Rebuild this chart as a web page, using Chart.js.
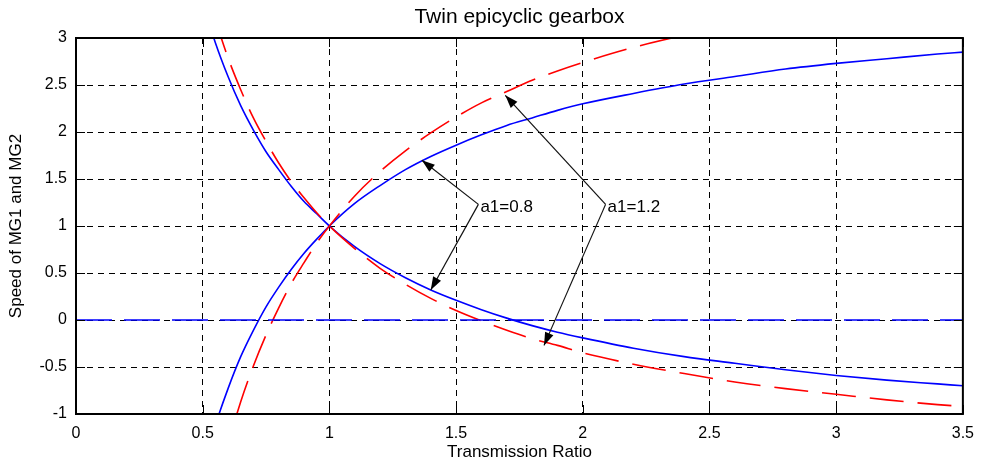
<!DOCTYPE html>
<html>
<head>
<meta charset="utf-8">
<script src="https://cdn.jsdelivr.net/npm/chart.js@4"></script>
<style>
  body { margin: 0; background: #fff; }
  canvas { display: block; }
</style>
</head>
<body>
<canvas id="gearChart" width="984" height="466"></canvas>
<script>
// transmission ratio samples
var ratios = [0.5, 0.55, 0.6, 0.65, 0.7, 0.75, 0.8, 0.85, 0.9, 0.95, 1.0, 1.1, 1.2, 1.3, 1.4, 1.5, 1.6, 1.7, 1.8, 1.9, 2.0, 2.2, 2.4, 2.6, 2.8, 3.0, 3.2, 3.4, 3.5];

// a1 = 0.8 (blue, solid)
var blueRise = [-1.59, -1.12, -0.73, -0.39, -0.11, 0.14, 0.35, 0.54, 0.71, 0.86, 1.00, 1.24, 1.43, 1.60, 1.74, 1.86, 1.97, 2.07, 2.15, 2.23, 2.30, 2.41, 2.51, 2.59, 2.67, 2.73, 2.78, 2.83, 2.85];
var blueFall = [3.38, 2.95, 2.59, 2.28, 2.02, 1.79, 1.60, 1.42, 1.26, 1.13, 1.00, 0.78, 0.60, 0.45, 0.32, 0.21, 0.11, 0.02, -0.06, -0.13, -0.19, -0.30, -0.39, -0.46, -0.53, -0.59, -0.64, -0.68, -0.70];

// a1 = 1.2 (red, dashed)
var redRise = [-2.48, -1.85, -1.32, -0.87, -0.49, -0.16, 0.13, 0.39, 0.61, 0.82, 1.00, 1.32, 1.58, 1.80, 1.99, 2.16, 2.31, 2.43, 2.55, 2.65, 2.74, 2.90, 3.03, 3.14, 3.24, 3.32, 3.39, 3.46, 3.49];
var redFall = [3.69, 3.20, 2.79, 2.45, 2.15, 1.90, 1.67, 1.47, 1.30, 1.14, 1.00, 0.76, 0.55, 0.38, 0.23, 0.10, -0.01, -0.11, -0.20, -0.27, -0.35, -0.47, -0.57, -0.66, -0.73, -0.79, -0.85, -0.90, -0.92];

// zero speed line
var zeroX = [0, 3.5];
var zeroY = [0, 0];

// annotation labels, anchored in data units
var noteLabels = ['a1=0.8', 'a1=1.2'];
var notePos = [[1.596, 1.20], [2.098, 1.20]];
var noteFrom = [[1.588, 1.23], [2.09, 1.23]];
var noteTips = [
    [[1.365, 1.70], [1.40, 0.32]],
    [[1.694, 2.39], [1.847, -0.27]]
];

var chartTitle = 'Twin epicyclic gearbox';

var FONT = 'Liberation Sans, Arial, Helvetica, sans-serif';

function pts(xs, ys) {
    return xs.map(function(x, i) { return {x: x, y: ys[i]}; });
}

function curve(xs, ys, color, dash) {
    return {
        data: pts(xs, ys),
        borderColor: color,
        borderWidth: 1.6,
        borderDash: dash || [],
        pointRadius: 0,
        fill: false,
        cubicInterpolationMode: 'monotone',
        clip: 0
    };
}

var frame = {
    id: 'frame',
    beforeDraw: function(chart) {
        var c = chart.ctx;
        c.save();
        c.fillStyle = '#fff';
        c.fillRect(0, 0, chart.width, chart.height);
        c.restore();
    },
    afterDraw: function(chart) {
        var c = chart.ctx, a = chart.chartArea;
        var xs = chart.scales.x, ys = chart.scales.y;
        c.save();
        c.strokeStyle = '#000';
        c.lineWidth = 1;
        c.setLineDash([]);
        c.beginPath();
        xs.ticks.forEach(function(t) {
            var px = Math.round(xs.getPixelForValue(t.value)) + 0.5;
            c.moveTo(px, a.bottom); c.lineTo(px, a.bottom - 9);
            c.moveTo(px, a.top); c.lineTo(px, a.top + 9);
        });
        ys.ticks.forEach(function(t) {
            var py = Math.round(ys.getPixelForValue(t.value)) + 0.5;
            c.moveTo(a.left, py); c.lineTo(a.left + 9, py);
            c.moveTo(a.right, py); c.lineTo(a.right - 9, py);
        });
        c.stroke();
        c.lineWidth = 2;
        c.strokeRect(a.left, a.top, a.right - a.left, a.bottom - a.top);

        // title centred over the plot box
        c.fillStyle = '#000';
        c.font = '21px ' + FONT;
        c.textAlign = 'center';
        c.textBaseline = 'middle';
        c.fillText(chartTitle, (a.left + a.right) / 2, 17);

        // arrows + labels
        c.lineWidth = 1.2;
        c.strokeStyle = '#111';
        for (var i = 0; i < noteLabels.length; i++) {
            var fx = xs.getPixelForValue(noteFrom[i][0]);
            var fy = ys.getPixelForValue(noteFrom[i][1]);
            noteTips[i].forEach(function(tp) {
                var tx = xs.getPixelForValue(tp[0]);
                var ty = ys.getPixelForValue(tp[1]);
                var ang = Math.atan2(ty - fy, tx - fx);
                c.beginPath();
                c.moveTo(fx, fy);
                c.lineTo(tx, ty);
                c.stroke();
                c.beginPath();
                c.moveTo(tx, ty);
                c.lineTo(tx - 13 * Math.cos(ang) + 4.5 * Math.sin(ang), ty - 13 * Math.sin(ang) - 4.5 * Math.cos(ang));
                c.lineTo(tx - 13 * Math.cos(ang) - 4.5 * Math.sin(ang), ty - 13 * Math.sin(ang) + 4.5 * Math.cos(ang));
                c.closePath();
                c.fill();
            });
            c.font = '17px ' + FONT;
            c.textAlign = 'left';
            c.textBaseline = 'middle';
            c.fillText(noteLabels[i], xs.getPixelForValue(notePos[i][0]), ys.getPixelForValue(notePos[i][1]));
        }
        c.restore();
    }
};

var ctx = document.getElementById('gearChart').getContext('2d');
var gearChart = new Chart(ctx, {
    type: 'line',
    data: {
        datasets: [
            curve(zeroX, zeroY, '#0000ff', [36, 12]),
            curve(ratios, redRise, '#ff0000', [34, 14]),
            curve(ratios, redFall, '#ff0000', [34, 14]),
            curve(ratios, blueRise, '#0000ff'),
            curve(ratios, blueFall, '#0000ff')
        ]
    },
    options: {
        responsive: false,
        animation: false,
        layout: { padding: { left: 0, right: 16, top: 38, bottom: 0 } },
        plugins: {
            legend: { display: false },
            tooltip: { enabled: false },
            title: { display: false }
        },
        scales: {
            x: {
                type: 'linear',
                min: 0,
                max: 3.5,
                ticks: {
                    stepSize: 0.5,
                    color: '#000',
                    padding: 10,
                    maxRotation: 0,
                    autoSkip: false,
                    font: { family: FONT, size: 16 },
                    callback: function(v) { return String(v); }
                },
                grid: { color: '#000', lineWidth: 1, drawTicks: false },
                border: { display: false, dash: [6, 5] },
                title: {
                    display: true,
                    text: 'Transmission Ratio',
                    color: '#000',
                    font: { family: FONT, size: 17 },
                    padding: { top: 0, bottom: 3 }
                },
                afterFit: function(s) { s.height = 52; }
            },
            y: {
                type: 'linear',
                min: -1,
                max: 3,
                ticks: {
                    stepSize: 0.5,
                    color: '#000',
                    padding: 9,
                    font: { family: FONT, size: 16 },
                    callback: function(v) { return String(v); }
                },
                grid: { color: '#000', lineWidth: 1, drawTicks: false },
                border: { display: false, dash: [6, 5] },
                title: {
                    display: true,
                    text: 'Speed of MG1 and MG2',
                    color: '#000',
                    font: { family: FONT, size: 17 },
                    padding: { top: 6, bottom: 0 }
                },
                afterFit: function(s) { s.width = 76; }
            }
        }
    },
    plugins: [frame]
});
</script>
</body>
</html>
